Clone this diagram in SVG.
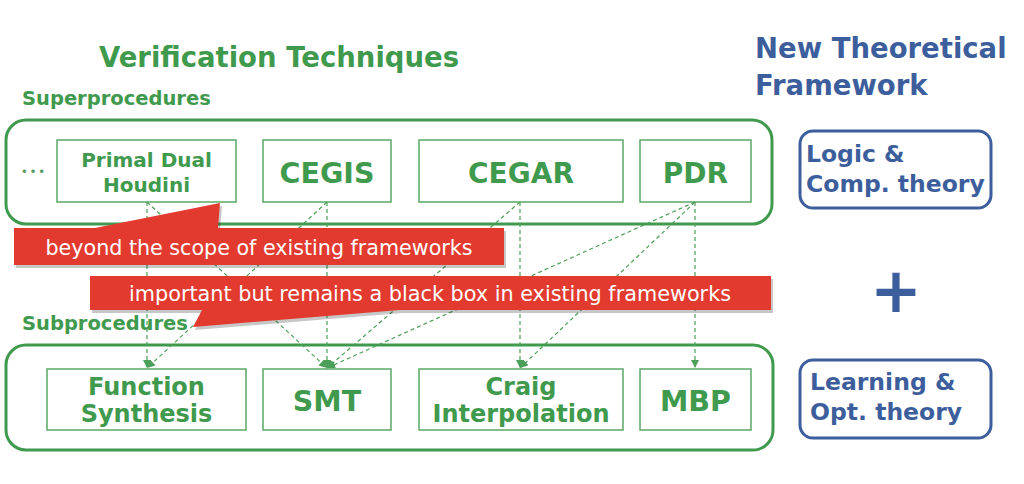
<svg xmlns="http://www.w3.org/2000/svg" width="1024" height="484" viewBox="0 0 1024 484">
<style>
.g{fill:#3f9a4e;font-family:"DejaVu Sans","Liberation Sans",sans-serif;font-weight:bold}
.b{fill:#3d5e9c;font-family:"DejaVu Sans","Liberation Sans",sans-serif;font-weight:bold}
.w{fill:#ffffff;font-family:"DejaVu Sans","Liberation Sans",sans-serif}
.outer{fill:none;stroke:#3f9a4e;stroke-width:3}
.box{fill:#ffffff;stroke:#5aa965;stroke-width:1.5}
.tbox{fill:#ffffff;stroke:#3d5e9c;stroke-width:3}
.c{fill:none;stroke:#4c9f58;stroke-width:1.2;stroke-dasharray:4 3;marker-end:url(#ah)}
.red{fill:#e33a2f}
.sh{fill:#000;opacity:0.22}
</style>
<defs>
<marker id="ah" viewBox="0 0 10 10" refX="10" refY="5" markerWidth="8" markerHeight="8" markerUnits="userSpaceOnUse" orient="auto">
<path d="M0,0 L10,5 L0,10 z" fill="#4c9f58"/>
</marker>
</defs>
<rect width="1024" height="484" fill="#ffffff"/>

<text class="g" x="279" y="67" font-size="27.5" text-anchor="middle">Verification Techniques</text>
<text class="g" x="22" y="105" font-size="19.5">Superprocedures</text>
<text class="b" x="755" y="58" font-size="27.5">New Theoretical</text>
<text class="b" x="755" y="95" font-size="27.5">Framework</text>

<rect class="outer" x="6" y="120" width="766" height="104" rx="20"/>
<rect class="outer" x="6" y="345" width="767" height="105" rx="20"/>

<text x="33" y="181" font-size="26" text-anchor="middle" style="font-family:'Noto Sans CJK JP',sans-serif;fill:#5a9a66">…</text>

<g id="houdini">
<rect class="box" x="57" y="140" width="179" height="62"/>
<text class="g" x="146.5" y="167" font-size="20" text-anchor="middle">Primal Dual</text>
<text class="g" x="146.5" y="192" font-size="20" text-anchor="middle">Houdini</text>
</g>
<g id="cegis">
<rect class="box" x="263" y="140" width="128" height="62"/>
<text class="g" x="327" y="183" font-size="28.5" text-anchor="middle">CEGIS</text>
</g>
<g id="cegar">
<rect class="box" x="419" y="140" width="204" height="62"/>
<text class="g" x="521" y="183" font-size="28" text-anchor="middle">CEGAR</text>
</g>
<g id="pdr">
<rect class="box" x="640" y="140" width="111" height="62"/>
<text class="g" x="695.5" y="183" font-size="28" text-anchor="middle">PDR</text>
</g>

<g id="fsynth">
<rect class="box" x="47" y="369" width="199" height="61"/>
<text class="g" x="146.5" y="395" font-size="24" text-anchor="middle">Function</text>
<text class="g" x="146.5" y="422" font-size="24" text-anchor="middle">Synthesis</text>
</g>
<g id="smt">
<rect class="box" x="263" y="369" width="128" height="61"/>
<text class="g" x="327" y="411" font-size="28.5" text-anchor="middle">SMT</text>
</g>
<g id="craig">
<rect class="box" x="419" y="369" width="204" height="61"/>
<text class="g" x="521" y="395" font-size="24" text-anchor="middle">Craig</text>
<text class="g" x="521" y="422" font-size="24" text-anchor="middle">Interpolation</text>
</g>
<g id="mbp">
<rect class="box" x="640" y="369" width="111" height="61"/>
<text class="g" x="695.5" y="411" font-size="28.5" text-anchor="middle">MBP</text>
</g>

<g id="connectors">
<path class="c" d="M147,202 L147,368"/>
<path class="c" d="M147,202 L327,368"/>
<path class="c" d="M327,202 L147,368"/>
<path class="c" d="M327,202 L327,368"/>
<path class="c" d="M520,202 L327,368"/>
<path class="c" d="M520,202 L520,368"/>
<path class="c" d="M695,202 L327,368"/>
<path class="c" d="M695,202 L520,368"/>
<path class="c" d="M695,202 L695,368"/>
</g>

<g id="callout1">
<polygon class="sh" points="16,231 97,231 222,206 220,231 506,231 506,268 16,268"/>
<polygon class="red" points="14,228 95,228 220,203 218,228 504,228 504,265 14,265"/>
<text class="w" x="259" y="255" font-size="21" text-anchor="middle" textLength="427" lengthAdjust="spacingAndGlyphs">beyond the scope of existing frameworks</text>
</g>
<g id="callout2">
<polygon class="sh" points="92,279 773,279 773,313 402,313 195,330 204,313 92,313"/>
<polygon class="red" points="90,276 771,276 771,310 400,310 193,327 202,310 90,310"/>
<text class="w" x="430" y="301" font-size="21" text-anchor="middle" textLength="602" lengthAdjust="spacingAndGlyphs">important but remains a black box in existing frameworks</text>
</g>

<text class="g" x="22" y="330" font-size="19.5">Subprocedures</text>

<g id="logic">
<rect class="tbox" x="800" y="131" width="191" height="77" rx="13"/>
<text class="b" x="806" y="162" font-size="23.5">Logic &amp;</text>
<text class="b" x="806" y="192" font-size="23.5">Comp. theory</text>
</g>
<text class="b" x="896" y="312" font-size="62" text-anchor="middle">+</text>
<g id="learning">
<rect class="tbox" x="800" y="360" width="191" height="78" rx="13"/>
<text class="b" x="810" y="390" font-size="23.5">Learning &amp;</text>
<text class="b" x="810" y="420" font-size="23.5">Opt. theory</text>
</g>
</svg>
